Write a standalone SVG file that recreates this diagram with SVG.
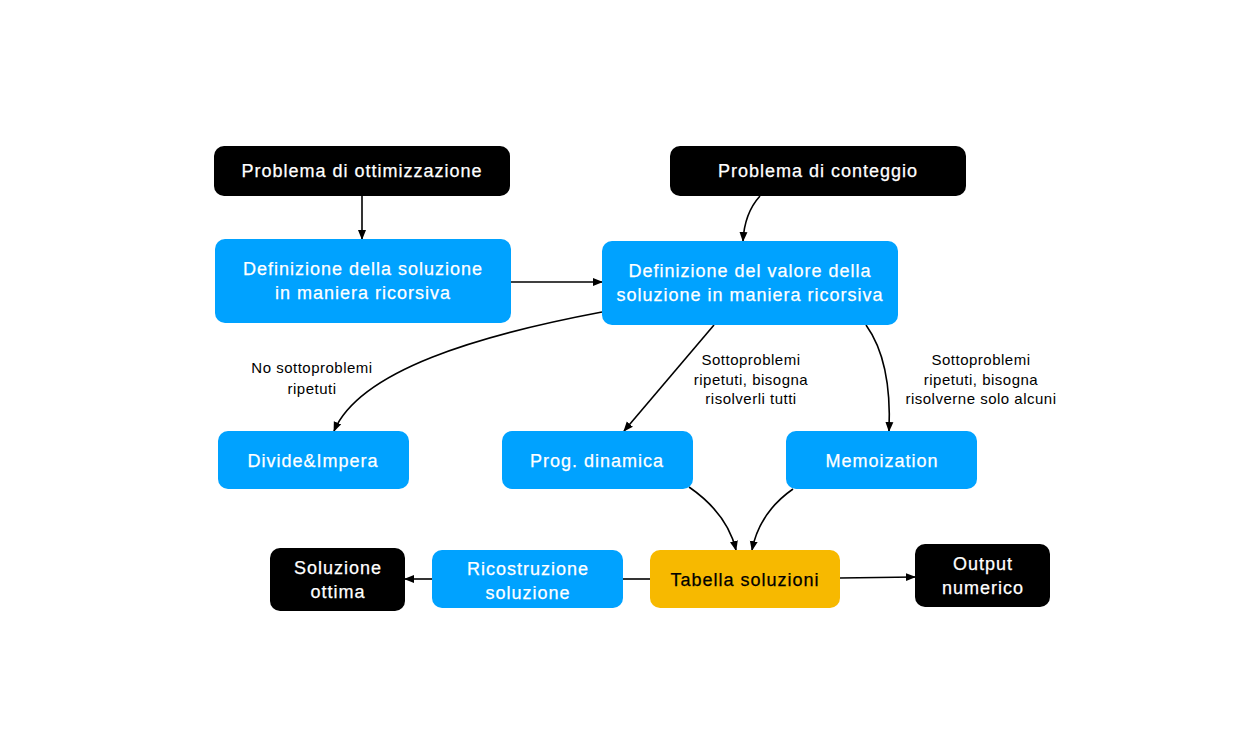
<svg xmlns="http://www.w3.org/2000/svg" width="1256" height="732" viewBox="0 0 1256 732">
<defs>
<style>
.n{font-family:"Liberation Sans",Arial,sans-serif;font-size:18px;fill:#fff;stroke:#fff;stroke-width:0.25px;text-anchor:middle;letter-spacing:1px}
.nd{fill:#000;stroke:#000}
.l{font-family:"Liberation Sans",Arial,sans-serif;font-size:15px;fill:#000;text-anchor:middle;letter-spacing:0.5px}
.blk{fill:#000}
.blu{fill:#00A2FF}
.yel{fill:#F7B900}
.e{fill:none;stroke:#000;stroke-width:1.6}
</style>
<marker id="a" viewBox="0 0 10 10" refX="9" refY="5" markerWidth="10" markerHeight="10" orient="auto" markerUnits="userSpaceOnUse">
<path d="M0,1 L10,5 L0,9 z" fill="#000"/>
</marker>
</defs>
<rect width="1256" height="732" fill="#fff"/>
<g id="edges">
<path class="e" d="M362,196 L362,239" marker-end="url(#a)"/>
<path class="e" d="M760,196 C750,207 744,222 743,241" marker-end="url(#a)"/>
<path class="e" d="M511,282 L602,282" marker-end="url(#a)"/>
<path class="e" d="M602,312 C480,335 360,370 334,431" marker-end="url(#a)"/>
<path class="e" d="M714,325 L624,431" marker-end="url(#a)"/>
<path class="e" d="M866,325 C884,350 891,385 889,431" marker-end="url(#a)"/>
<path class="e" d="M689,487 C715,505 730,525 736,550" marker-end="url(#a)"/>
<path class="e" d="M793,489 C770,505 757,525 752,550" marker-end="url(#a)"/>
<path class="e" d="M840,578 L915,577" marker-end="url(#a)"/>
<path class="e" d="M650,579 L623,579"/>
<path class="e" d="M432,579 L405,579" marker-end="url(#a)"/>
</g>
<g id="labels">
<text class="l" x="312" y="373">No sottoproblemi</text>
<text class="l" x="312" y="394">ripetuti</text>
<text class="l" x="751" y="365">Sottoproblemi</text>
<text class="l" x="751" y="385">ripetuti, bisogna</text>
<text class="l" x="751" y="404">risolverli tutti</text>
<text class="l" x="981" y="365">Sottoproblemi</text>
<text class="l" x="981" y="385">ripetuti, bisogna</text>
<text class="l" x="981" y="404">risolverne solo alcuni</text>
</g>
<g id="n1"><rect class="blk" x="214" y="146" width="296" height="50" rx="10"/><text class="n" x="362" y="177">Problema di ottimizzazione</text></g>
<g id="n2"><rect class="blu" x="215" y="239" width="296" height="84" rx="10"/><text class="n" x="363" y="275">Definizione della soluzione</text><text class="n" x="363" y="299">in maniera ricorsiva</text></g>
<g id="n3"><rect class="blk" x="670" y="146" width="296" height="50" rx="10"/><text class="n" x="818" y="177">Problema di conteggio</text></g>
<g id="n4"><rect class="blu" x="602" y="241" width="296" height="84" rx="10"/><text class="n" x="750" y="277">Definizione del valore della</text><text class="n" x="750" y="301">soluzione in maniera ricorsiva</text></g>
<g id="n5"><rect class="blu" x="218" y="431" width="191" height="58" rx="10"/><text class="n" x="313" y="467">Divide&amp;Impera</text></g>
<g id="n6"><rect class="blu" x="502" y="431" width="191" height="58" rx="10"/><text class="n" x="597" y="467">Prog. dinamica</text></g>
<g id="n7"><rect class="blu" x="786" y="431" width="191" height="58" rx="10"/><text class="n" x="882" y="467">Memoization</text></g>
<g id="n8"><rect class="yel" x="650" y="550" width="190" height="58" rx="10"/><text class="n nd" x="745" y="586">Tabella soluzioni</text></g>
<g id="n9"><rect class="blu" x="432" y="550" width="191" height="58" rx="10"/><text class="n" x="528" y="575">Ricostruzione</text><text class="n" x="528" y="599">soluzione</text></g>
<g id="n10"><rect class="blk" x="270" y="548" width="135" height="63" rx="10"/><text class="n" x="338" y="574">Soluzione</text><text class="n" x="338" y="598">ottima</text></g>
<g id="n11"><rect class="blk" x="915" y="544" width="135" height="63" rx="10"/><text class="n" x="983" y="570">Output</text><text class="n" x="983" y="594">numerico</text></g>
</svg>
